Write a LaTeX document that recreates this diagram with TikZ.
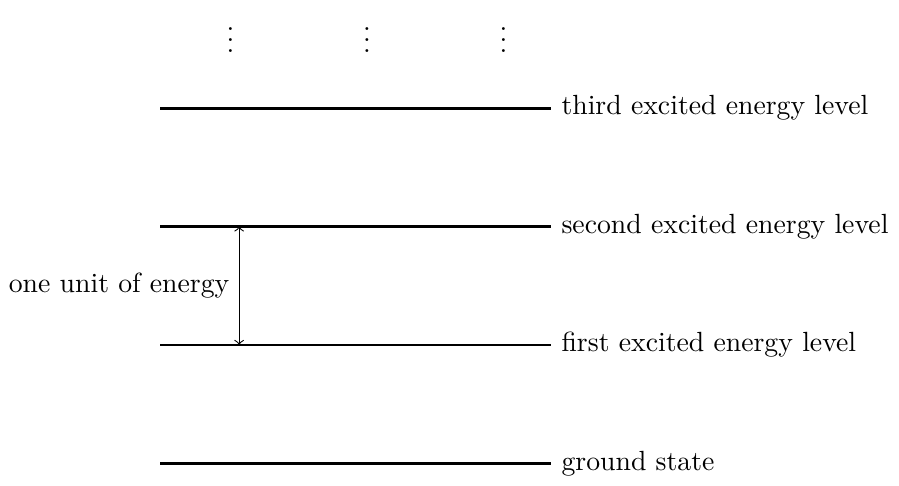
\documentclass[tikz,border=0pt]{standalone}
\usepackage{amsmath}
\usetikzlibrary{positioning}

\begin{document}
\begin{tikzpicture}
\useasboundingbox (-2.03, -0.28) rectangle (9.36, 5.87);

\coordinate (l0) at (0, 0);
\coordinate (r0) at (4.95, 0);
\coordinate (l1) at (0, 1.5);
\coordinate (r1) at (4.95, 1.5);
\coordinate (l2) at (0, 3);
\coordinate (r2) at (4.95, 3);
\coordinate (l3) at (0, 4.5);
\coordinate (r3) at (4.95, 4.5);

\draw[line width=1pt] (l0) -- (r0) node[anchor = west] (n0) {ground state};
\draw[line width=1pt] (l1) -- (r1) node[anchor = west] (n1) {first excited energy level};
\draw[line width=1pt] (l2) -- (r2) node[anchor = west] (n2) {second excited energy level};
\draw[line width=1pt] (l3) -- (r3) node[anchor = west] (n3) {third excited energy level};

\node (d1) at (0.89, 5.47) {$\vdots$};
\node (d2) at (2.62, 5.47) {$\vdots$};
\node (d3) at (4.35, 5.47) {$\vdots$};

\coordinate (a1) at (1, 1.5);
\coordinate (a2) at (1, 3);
\draw[<->] (a1) -- (a2);
\node[anchor = east] (u) at (1, 2.25) {one unit of energy};

\end{tikzpicture}
\end{document}
